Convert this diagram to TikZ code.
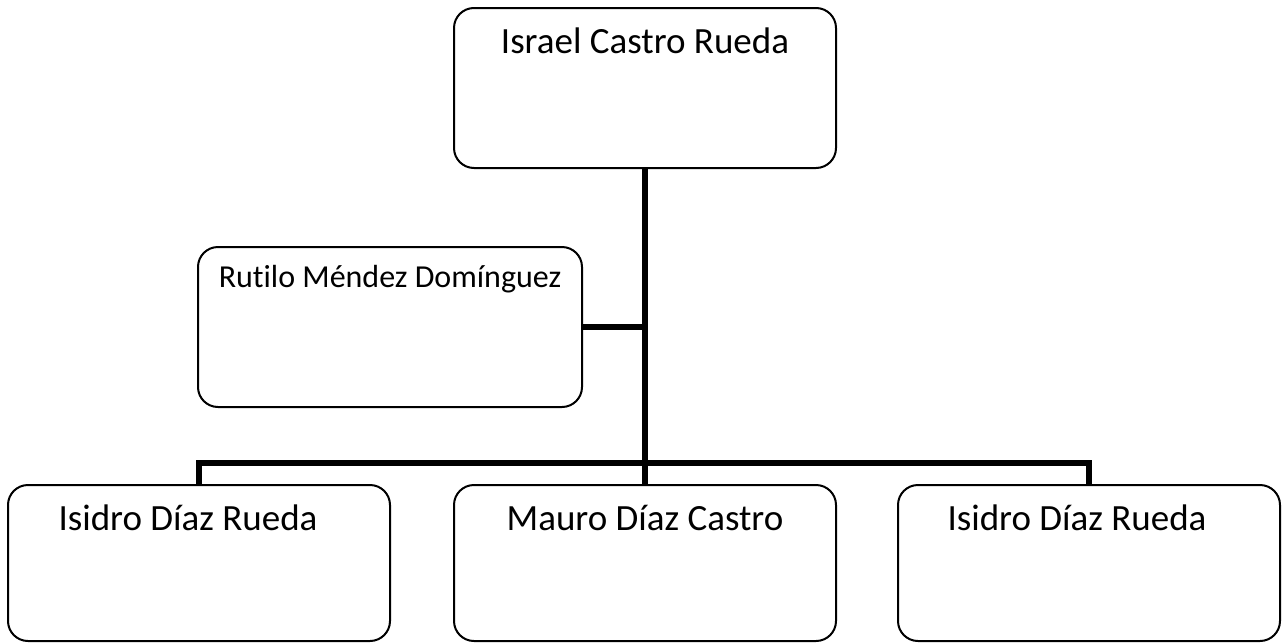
\documentclass[tikz,border=0pt]{standalone}
\usepackage{fontspec}
\setmainfont[Ligatures=NoCommon]{Carlito}
\begin{document}
\begin{tikzpicture}[x=1pt,y=-1pt,
  person/.style={draw,line width=2pt,rounded corners=20pt,inner sep=0pt,minimum width=382pt},
  bigname/.style={font=\fontsize{37}{41}\selectfont,anchor=base,inner sep=0pt},
  smallname/.style={font=\fontsize{32}{36}\selectfont,anchor=base,inner sep=0pt},
  conn/.style={line width=5.5pt,line join=miter}]
\useasboundingbox (0,0) rectangle (1285,643);
\node[person,minimum height=160pt] (top) at (645,88) {};
\node[person,minimum height=160pt,minimum width=384pt] (rut) at (390,327) {};
\node[person,minimum height=156pt] (bl) at (199,563) {};
\node[person,minimum height=156pt] (bm) at (645,563) {};
\node[person,minimum height=156pt] (br) at (1089,563) {};
\node[bigname] (ttop) at (645,53) {Israel Castro Rueda};
\node[smallname] (trut) at (390,287) {Rutilo Méndez Domínguez};
\node[bigname] (tbl) at (188,530) {Isidro Díaz Rueda};
\node[bigname] (tbm) at (645,530) {Mauro Díaz Castro};
\node[bigname] (tbr) at (1077,530) {Isidro Díaz Rueda};
\coordinate (bar) at (645,463);
\draw[conn] (top.south) -- (bm.north);
\draw[conn] (rut.east) -- (rut.east -| top.south);
\draw[conn] (bl.north) |- (bar) -| (br.north);
\end{tikzpicture}
\end{document}
